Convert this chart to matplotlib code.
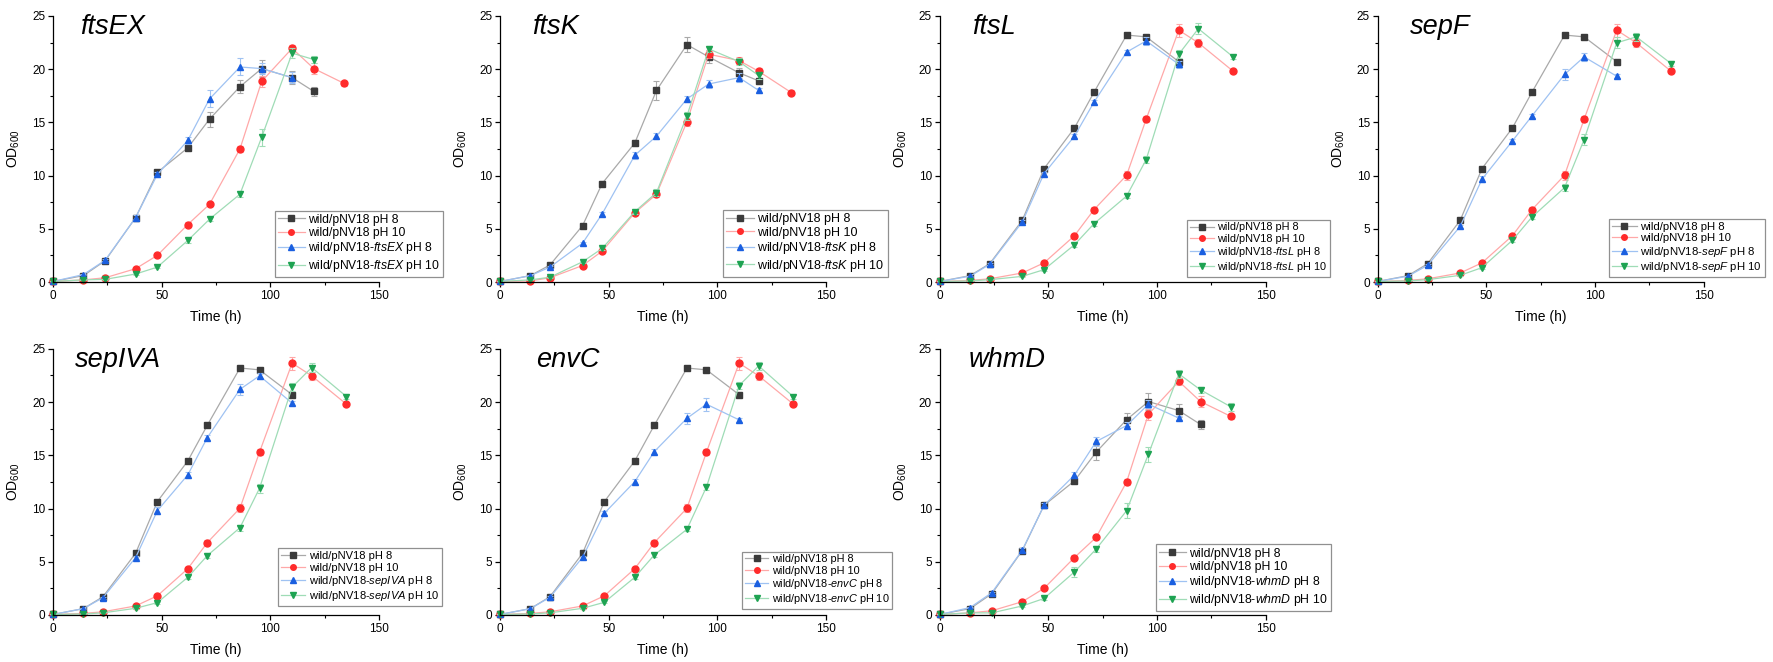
import matplotlib
matplotlib.use('Agg')
import matplotlib.pyplot as plt
from matplotlib.ticker import MultipleLocator

plt.rcParams['font.family'] = ['Liberation Sans', 'DejaVu Sans']
plt.rcParams['mathtext.fontset'] = 'custom'
plt.rcParams['mathtext.rm'] = 'Liberation Sans'
plt.rcParams['mathtext.it'] = 'Liberation Sans:italic'

# tiempos de muestreo (h)
t_a = [0, 14, 24, 38, 48, 62, 72, 86, 96, 110, 120, 134]   # ftsEX, whmD
t_k = [0, 14, 23, 38, 47, 62, 72, 86, 96, 110, 119, 134]   # ftsK
t_b = [0, 14, 23, 38, 48, 62, 71, 86, 95, 110, 119, 135]   # ftsL, sepF, sepIVA, envC

# controles wild/pNV18
ctrlA_pH8 = [0.05, 0.6, 2.0, 6.05, 10.3, 12.6, 15.3, 18.35, 20.05, 19.2, 17.9]
ctrlA_pH8_err = [0, 0.05, 0.1, 0.15, 0.2, 0.2, 0.7, 0.6, 0.8, 0.6, 0.4]
ctrlA_pH10 = [0.05, 0.2, 0.4, 1.25, 2.5, 5.4, 7.3, 12.5, 18.85, 21.95, 20.05, 18.65]
ctrlA_pH10_err = [0, 0, 0.05, 0.1, 0.15, 0.2, 0.2, 0.3, 0.5, 0.3, 0.5, 0.2]

ctrlK_pH8 = [0.05, 0.6, 1.6, 5.3, 9.25, 13.05, 18.0, 22.3, 21.15, 19.65, 18.9]
ctrlK_pH8_err = [0, 0.05, 0.1, 0.15, 0.2, 0.3, 0.9, 0.7, 0.6, 0.5, 0.3]
ctrlK_pH10 = [0.05, 0.1, 0.4, 1.55, 2.9, 6.5, 8.25, 15.05, 21.4, 20.8, 19.8, 17.8]
ctrlK_pH10_err = [0, 0, 0.05, 0.1, 0.15, 0.2, 0.3, 0.4, 0.4, 0.3, 0.3, 0.2]

ctrlB_pH8 = [0.05, 0.6, 1.72, 5.8, 10.65, 14.47, 17.83, 23.2, 23.03, 20.7]
ctrlB_pH8_err = [0, 0.05, 0.1, 0.15, 0.2, 0.2, 0.2, 0.2, 0.2, 0.2]
ctrlB_pH10 = [0.05, 0.15, 0.3, 0.85, 1.8, 4.35, 6.8, 10.03, 15.3, 23.66, 22.47, 19.8]
ctrlB_pH10_err = [0, 0, 0.05, 0.1, 0.1, 0.2, 0.2, 0.4, 0.3, 0.6, 0.4, 0.2]

# cepas complementadas
ftsEX_pH8 = [0.05, 0.7, 2.05, 6.05, 10.1, 13.3, 17.2, 20.2, 20.05, 19.2]
ftsEX_pH8_err = [0, 0.05, 0.1, 0.2, 0.2, 0.3, 0.8, 0.8, 0.5, 0.5]
ftsEX_pH10 = [0.05, 0.2, 0.25, 0.75, 1.4, 3.9, 5.9, 8.25, 13.6, 21.5, 20.9]
ftsEX_pH10_err = [0, 0, 0.05, 0.1, 0.1, 0.2, 0.2, 0.3, 0.8, 0.5, 0.3]

ftsK_pH8 = [0.05, 0.6, 1.4, 3.65, 6.4, 11.9, 13.7, 17.2, 18.6, 19.2, 18.0]
ftsK_pH8_err = [0, 0.05, 0.1, 0.15, 0.2, 0.3, 0.3, 0.3, 0.4, 0.4, 0.2]
ftsK_pH10 = [0.05, 0.2, 0.45, 1.9, 3.15, 6.6, 8.4, 15.6, 21.9, 20.7, 19.4]
ftsK_pH10_err = [0, 0, 0.05, 0.1, 0.15, 0.2, 0.3, 0.4, 0.3, 0.3, 0.3]

ftsL_pH8 = [0.05, 0.55, 1.66, 5.64, 10.18, 13.7, 16.9, 21.6, 22.65, 20.45]
ftsL_pH8_err = [0, 0.05, 0.1, 0.15, 0.2, 0.2, 0.2, 0.2, 0.4, 0.3]
ftsL_pH10 = [0.05, 0.1, 0.22, 0.53, 1.16, 3.5, 5.48, 8.08, 11.5, 21.4, 23.8, 21.15]
ftsL_pH10_err = [0, 0, 0.05, 0.1, 0.1, 0.2, 0.2, 0.2, 0.3, 0.4, 0.5, 0.2]

sepF_pH8 = [0.05, 0.55, 1.57, 5.23, 9.65, 13.25, 15.6, 19.5, 21.15, 19.33]
sepF_pH8_err = [0, 0.05, 0.1, 0.15, 0.3, 0.2, 0.2, 0.5, 0.4, 0.2]
sepF_pH10 = [0.05, 0.1, 0.22, 0.63, 1.35, 3.92, 6.1, 8.87, 13.38, 22.47, 23.03, 20.52]
sepF_pH10_err = [0, 0, 0.05, 0.1, 0.1, 0.2, 0.2, 0.3, 0.5, 0.5, 0.4, 0.2]

sepIVA_pH8 = [0.05, 0.6, 1.63, 5.39, 9.8, 13.16, 16.67, 21.2, 22.47, 19.9]
sepIVA_pH8_err = [0, 0.05, 0.1, 0.15, 0.3, 0.3, 0.2, 0.5, 0.3, 0.2]
sepIVA_pH10 = [0.05, 0.1, 0.2, 0.63, 1.16, 3.54, 5.58, 8.2, 11.9, 21.4, 23.25, 20.52]
sepIVA_pH10_err = [0, 0, 0.05, 0.1, 0.1, 0.2, 0.2, 0.3, 0.4, 0.4, 0.4, 0.2]

envC_pH8 = [0.05, 0.6, 1.66, 5.42, 9.55, 12.53, 15.35, 18.48, 19.8, 18.33]
envC_pH8_err = [0, 0.05, 0.1, 0.15, 0.2, 0.2, 0.2, 0.5, 0.6, 0.2]
envC_pH10 = [0.05, 0.1, 0.2, 0.63, 1.19, 3.54, 5.64, 8.05, 12.03, 21.55, 23.4, 20.5]
envC_pH10_err = [0, 0, 0.05, 0.1, 0.1, 0.2, 0.2, 0.2, 0.3, 0.3, 0.4, 0.2]

whmD_pH8 = [0.05, 0.7, 2.1, 6.1, 10.3, 13.15, 16.3, 17.8, 19.8, 18.5]
whmD_pH8_err = [0, 0.05, 0.1, 0.2, 0.2, 0.3, 0.4, 0.3, 0.4, 0.2]
whmD_pH10 = [0.05, 0.2, 0.2, 0.85, 1.55, 4.05, 6.2, 9.8, 15.1, 22.65, 21.15, 19.55]
whmD_pH10_err = [0, 0, 0.05, 0.1, 0.1, 0.5, 0.3, 0.7, 0.7, 0.4, 0.3, 0.4]

# (gen, tiempos, control pH8, control pH10, gen pH8, gen pH10)
paneles = [
    ('ftsEX', t_a, (ctrlA_pH8, ctrlA_pH8_err), (ctrlA_pH10, ctrlA_pH10_err),
     (ftsEX_pH8, ftsEX_pH8_err), (ftsEX_pH10, ftsEX_pH10_err)),
    ('ftsK', t_k, (ctrlK_pH8, ctrlK_pH8_err), (ctrlK_pH10, ctrlK_pH10_err),
     (ftsK_pH8, ftsK_pH8_err), (ftsK_pH10, ftsK_pH10_err)),
    ('ftsL', t_b, (ctrlB_pH8, ctrlB_pH8_err), (ctrlB_pH10, ctrlB_pH10_err),
     (ftsL_pH8, ftsL_pH8_err), (ftsL_pH10, ftsL_pH10_err)),
    ('sepF', t_b, (ctrlB_pH8, ctrlB_pH8_err), (ctrlB_pH10, ctrlB_pH10_err),
     (sepF_pH8, sepF_pH8_err), (sepF_pH10, sepF_pH10_err)),
    ('sepIVA', t_b, (ctrlB_pH8, ctrlB_pH8_err), (ctrlB_pH10, ctrlB_pH10_err),
     (sepIVA_pH8, sepIVA_pH8_err), (sepIVA_pH10, sepIVA_pH10_err)),
    ('envC', t_b, (ctrlB_pH8, ctrlB_pH8_err), (ctrlB_pH10, ctrlB_pH10_err),
     (envC_pH8, envC_pH8_err), (envC_pH10, envC_pH10_err)),
    ('whmD', t_a, (ctrlA_pH8, ctrlA_pH8_err), (ctrlA_pH10, ctrlA_pH10_err),
     (whmD_pH8, whmD_pH8_err), (whmD_pH10, whmD_pH10_err)),
]

# posicion de cada panel [left, bottom], leyenda y titulo
pos = [(0.0299, 0.574), (0.282, 0.574), (0.530, 0.574), (0.777, 0.574),
       (0.0299, 0.071), (0.282, 0.071), (0.530, 0.071)]
ley_pos = [(0.681, 0.019), (0.684, 0.019), (0.76, 0.019), (0.71, 0.019),
           (0.69, 0.034), (0.742, 0.023), (0.663, 0.015)]
ley_tam = [8.7, 9.0, 7.8, 8.2, 8.0, 7.8, 8.8]
tit_x = [0.083, 0.098, 0.10, 0.10, 0.067, 0.11, 0.09]

estilos = [
    ('s', '#3a3a3a', '#a9a9a9'),
    ('o', '#ff2b2b', '#ffa8a8'),
    ('^', '#1a5fe0', '#9fc2f2'),
    ('v', '#1ea352', '#9fdcb6'),
]

fig = plt.figure(figsize=(17.73, 6.62), dpi=100)

for i, (gen, t, c8, c10, g8, g10) in enumerate(paneles):
    ax = fig.add_axes([pos[i][0], pos[i][1], 0.1839, 0.402])
    etiquetas = ['wild/pNV18 pH 8', 'wild/pNV18 pH 10',
                 'wild/pNV18-$\\mathit{' + gen + '}$ pH 8',
                 'wild/pNV18-$\\mathit{' + gen + '}$ pH 10']
    for (y, err), (m, cm, cl), lab in zip([c8, c10, g8, g10], estilos, etiquetas):
        x = t[:len(y)]
        ax.errorbar(x, y, yerr=err, fmt='none', ecolor=cl, elinewidth=0.8,
                    capsize=2, capthick=0.8, clip_on=False)
        ax.plot(x, y, color=cl, linewidth=0.9, marker=m, markersize=5,
                markerfacecolor=cm, markeredgecolor=cm, label=lab, clip_on=False)

    ax.set_xlim(0, 150)
    ax.set_ylim(0, 25)
    ax.xaxis.set_major_locator(MultipleLocator(50))
    ax.xaxis.set_minor_locator(MultipleLocator(25))
    ax.yaxis.set_major_locator(MultipleLocator(5))
    ax.yaxis.set_minor_locator(MultipleLocator(2.5))
    ax.spines['top'].set_visible(False)
    ax.spines['right'].set_visible(False)
    for s in ['left', 'bottom']:
        ax.spines[s].set_linewidth(0.9)
    ax.tick_params(which='major', length=3.5, width=0.9, labelsize=8.5, pad=2)
    ax.tick_params(which='minor', length=2, width=0.8)

    ax.set_xlabel('Time (h)', fontsize=10)
    ax.set_ylabel('OD$_{600}$', fontsize=10)
    ax.xaxis.set_label_coords(0.5, -0.105)
    ax.yaxis.set_label_coords(-0.095, 0.5)

    ax.text(tit_x[i], 0.932, gen, transform=ax.transAxes, fontsize=19.5,
            style='italic', va='baseline', ha='left')

    ley = ax.legend(loc='lower left', bbox_to_anchor=ley_pos[i], borderaxespad=0,
                    fontsize=ley_tam[i], frameon=True, fancybox=False, framealpha=1,
                    edgecolor='#909090', labelspacing=0.12, handlelength=2.2,
                    handletextpad=0.3, borderpad=0.25, markerscale=0.8)
    ley.get_frame().set_linewidth(0.9)

plt.savefig('out.png', dpi=100)
